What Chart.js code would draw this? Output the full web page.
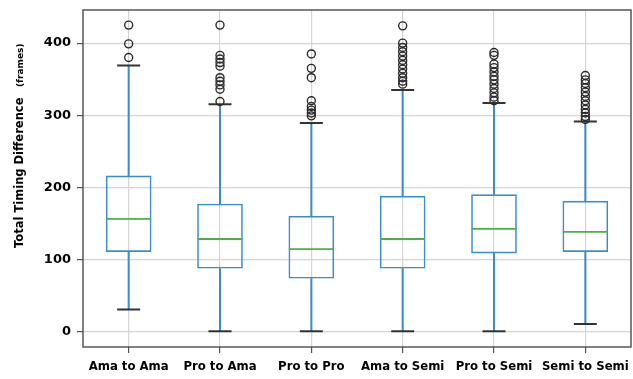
<!DOCTYPE html>
<html><head><meta charset="utf-8">
<script src="https://cdn.jsdelivr.net/npm/chart.js@4"></script>
<style>html,body{margin:0;padding:0;background:#fff}#wrap{width:633px;height:379px}</style>
</head><body><div id="wrap"><canvas id="c" width="633" height="379"></canvas></div>
<script>
const categories = ['Ama to Ama','Pro to Ama','Pro to Pro','Ama to Semi','Pro to Semi','Semi to Semi'];
const whiskerLow = [30, 0, 0, 0, 0, 10];
const q1 = [110, 87, 73, 87, 108, 110];
const median = [156, 128, 114, 128, 142, 138];
const q3 = [216, 177, 160, 188, 190, 181];
const whiskerHigh = [369, 315, 289, 335, 317, 291];
const outliersAmaAma = [425, 399, 380];
const outliersProAma = [425, 383, 378, 373, 368, 352, 347, 342, 336, 319];
const outliersProPro = [385, 365, 352, 320, 312, 307, 303, 299];
const outliersAmaSemi = [424, 400, 394, 388, 382, 376, 370, 364, 358, 352, 347, 343];
const outliersProSemi = [387, 383, 371, 366, 360, 354, 349, 343, 337, 331, 325, 320];
const outliersSemiSemi = [355, 349, 344, 338, 332, 326, 320, 314, 308, 303, 298, 294];
const yTicks = [0, 100, 200, 300, 400];
const yTitle = 'Total Timing Difference';
const yUnit = '(frames)';

const outliers = [outliersAmaAma, outliersProAma, outliersProPro, outliersAmaSemi, outliersProSemi, outliersSemiSemi];
const outlierPoints = [];
outliers.forEach((arr, i) => arr.forEach(v => outlierPoints.push({x: categories[i], y: v})));

const FONT = '"DejaVu Sans", sans-serif';
const BLUE = '#3a8dcc';
const GREEN = '#4caf4c';
const GRID = '#d4d4d4';
const CAP = '#333333';

const framePlugin = {
  id: 'frame',
  afterDraw(chart) {
    const a = chart.chartArea, c = chart.ctx;
    c.save();
    c.strokeStyle = '#4a4a4a';
    c.lineWidth = 1.4;
    c.strokeRect(a.left, a.top, a.right - a.left, a.bottom - a.top);
    c.restore();
  }
};
const titlePlugin = {
  id: 'ytitle',
  afterDraw(chart) {
    const c = chart.ctx;
    c.save();
    c.translate(23, 248);
    c.rotate(-Math.PI / 2);
    c.fillStyle = '#000';
    c.textAlign = 'left';
    c.textBaseline = 'alphabetic';
    c.font = 'bold 11.5px ' + FONT;
    c.fillText(yTitle, 0, 0);
    c.font = 'bold 9px ' + FONT;
    c.fillText(yUnit, 161, 0);
    c.restore();
  }
};
function noPad(s) { s.paddingLeft = 0; s.paddingRight = 0; s.paddingTop = 0; s.paddingBottom = 0; }

new Chart(document.getElementById('c'), {
  type: 'bar',
  data: {
    labels: categories,
    datasets: [
      {label: 'box', data: categories.map((_, i) => [q1[i], q3[i]]), backgroundColor: 'rgba(0,0,0,0)',
       borderColor: BLUE, borderWidth: 1.6, borderSkipped: false, grouped: false,
       barPercentage: 0.5, categoryPercentage: 1, order: 2},
      {label: 'upper whisker', data: categories.map((_, i) => [q3[i], whiskerHigh[i]]), backgroundColor: BLUE,
       borderWidth: 0, grouped: false, barThickness: 1.4, order: 3},
      {label: 'lower whisker', data: categories.map((_, i) => [whiskerLow[i], q1[i]]), backgroundColor: BLUE,
       borderWidth: 0, grouped: false, barThickness: 1.4, order: 3},
      {type: 'line', label: 'median', data: median, showLine: false, pointStyle: 'line', pointRadius: 22.5,
       pointBorderColor: GREEN, pointBorderWidth: 1.8, order: 1},
      {type: 'line', label: 'upper cap', data: whiskerHigh, showLine: false, pointStyle: 'line', pointRadius: 11.5,
       pointBorderColor: CAP, pointBorderWidth: 2, order: 1},
      {type: 'line', label: 'lower cap', data: whiskerLow, showLine: false, pointStyle: 'line', pointRadius: 11.5,
       pointBorderColor: CAP, pointBorderWidth: 2, order: 1},
      {type: 'line', label: 'outliers', data: outlierPoints, showLine: false, pointStyle: 'circle', pointRadius: 4,
       pointBorderColor: '#2a2a2a', pointBackgroundColor: 'rgba(0,0,0,0)', pointBorderWidth: 1.4, order: 0}
    ]
  },
  options: {
    responsive: false, animation: false, devicePixelRatio: 1,
    layout: {autoPadding: false, padding: {top: 10, right: 2, left: 0, bottom: 0}},
    plugins: {legend: {display: false}, tooltip: {enabled: false}},
    scales: {
      x: {
        type: 'category', offset: true,
        grid: {offset: false, color: GRID, lineWidth: 1.2, tickLength: 6, tickColor: '#555', drawTicks: true},
        border: {display: false},
        ticks: {font: {family: FONT, size: 11.7, weight: 'bold'}, color: '#000', padding: 7, maxRotation: 0, autoSkip: false},
        afterFit(s) { s.height = 32; noPad(s); }
      },
      y: {
        min: -22, max: 446,
        afterBuildTicks(s) { s.ticks = yTicks.map(v => ({value: v})); },
        grid: {color: GRID, lineWidth: 1.2, tickLength: 6, tickColor: '#555', drawTicks: true},
        border: {display: false},
        ticks: {font: {family: FONT, size: 13, weight: 'bold'}, color: '#000', padding: 6},
        afterFit(s) { s.width = 83; noPad(s); }
      }
    }
  },
  plugins: [framePlugin, titlePlugin]
});
</script></body></html>
